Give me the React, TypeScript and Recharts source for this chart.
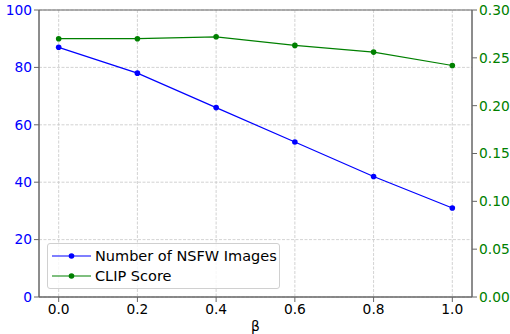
import React from 'react';
import { LineChart, Line, XAxis, YAxis, CartesianGrid, ReferenceArea } from 'recharts';

const betas = [0.0, 0.2, 0.4, 0.6, 0.8, 1.0];
const nsfwCounts = [87, 78, 66, 54, 42, 31];
const clipScores = [0.270, 0.270, 0.272, 0.263, 0.256, 0.242];
const xTicks = [0, 0.2, 0.4, 0.6, 0.8, 1.0];
const leftTicks = [0, 20, 40, 60, 80, 100];
const rightTicks = [0, 0.05, 0.1, 0.15, 0.2, 0.25, 0.3];
const seriesLabels = ['Number of NSFW Images', 'CLIP Score'];

const data = betas.map((b, i) => ({ beta: b, nsfw: nsfwCounts[i], clip: clipScores[i] }));

const FONT = 'DejaVu Sans, sans-serif';
const BLUE = '#0000ff';
const GREEN = '#008000';
const SPINE = '#666666';
const TICK_FS = 13.8;

const LegendBox = () => {
  const items = [
    { label: seriesLabels[0], color: BLUE },
    { label: seriesLabels[1], color: GREEN },
  ];
  return (
    <div
      style={{
        position: 'absolute',
        left: 47,
        top: 243,
        border: '1px solid #d0d0d0',
        borderRadius: 3,
        background: 'rgba(255,255,255,0.8)',
        padding: '2px 4px 3px 4px',
        fontFamily: FONT,
        fontSize: 14.5,
        color: '#000',
        width: 233,
        height: 46,
        boxSizing: 'border-box',
        whiteSpace: 'nowrap',
      }}
    >
      {items.map((it) => (
        <div key={it.label} style={{ display: 'flex', alignItems: 'center', height: 20 }}>
          <svg width={40} height={10} style={{ marginRight: 3, flex: 'none' }}>
            <line x1={0} y1={5} x2={39} y2={5} stroke={it.color} strokeWidth={1.2} />
            <circle cx={19.5} cy={5} r={2.8} fill={it.color} />
          </svg>
          <span>{it.label}</span>
        </div>
      ))}
    </div>
  );
};

export default function App() {
  return (
    <div style={{ position: 'absolute', left: 0, top: 0, width: 510, height: 334, background: '#fff' }}>
      <LineChart width={510} height={334} data={data} margin={{ top: 10, right: 0, bottom: 0, left: 0 }}>
        <CartesianGrid yAxisId="left" stroke="#c8c8c8" strokeDasharray="3 1.5" strokeWidth={0.8} verticalValues={xTicks} />
        <XAxis
          dataKey="beta"
          type="number"
          domain={[-0.05, 1.05]}
          ticks={xTicks}
          tickFormatter={(v: number) => v.toFixed(1)}
          height={37}
          tickSize={5}
          stroke={SPINE}
          tick={{ fill: '#000', fontFamily: FONT, fontSize: TICK_FS }}
          label={{ value: 'β', position: 'insideBottom', offset: 3, fill: '#000', fontFamily: FONT, fontSize: TICK_FS }}
          allowDataOverflow
        />
        <YAxis
          yAxisId="left"
          orientation="left"
          domain={[0, 100]}
          ticks={leftTicks}
          width={39}
          tickSize={5}
          stroke={SPINE}
          tick={{ fill: BLUE, fontFamily: FONT, fontSize: TICK_FS }}
        />
        <YAxis
          yAxisId="right"
          orientation="right"
          domain={[0, 0.3]}
          ticks={rightTicks}
          tickFormatter={(v: number) => v.toFixed(2)}
          width={38}
          tickSize={5}
          stroke={SPINE}
          tick={{ fill: GREEN, fontFamily: FONT, fontSize: TICK_FS }}
        />
        <ReferenceArea yAxisId="left" x1={-0.05} x2={1.05} y1={0} y2={100} fill="none" stroke={SPINE} strokeWidth={1} ifOverflow="visible" />
        <Line
          yAxisId="left"
          dataKey="nsfw"
          stroke={BLUE}
          strokeWidth={1.2}
          dot={{ r: 2.8, fill: BLUE, stroke: BLUE, strokeWidth: 0 }}
          isAnimationActive={false}
        />
        <Line
          yAxisId="right"
          dataKey="clip"
          stroke={GREEN}
          strokeWidth={1.2}
          dot={{ r: 2.8, fill: GREEN, stroke: GREEN, strokeWidth: 0 }}
          isAnimationActive={false}
        />
      </LineChart>
      <LegendBox />
    </div>
  );
}
